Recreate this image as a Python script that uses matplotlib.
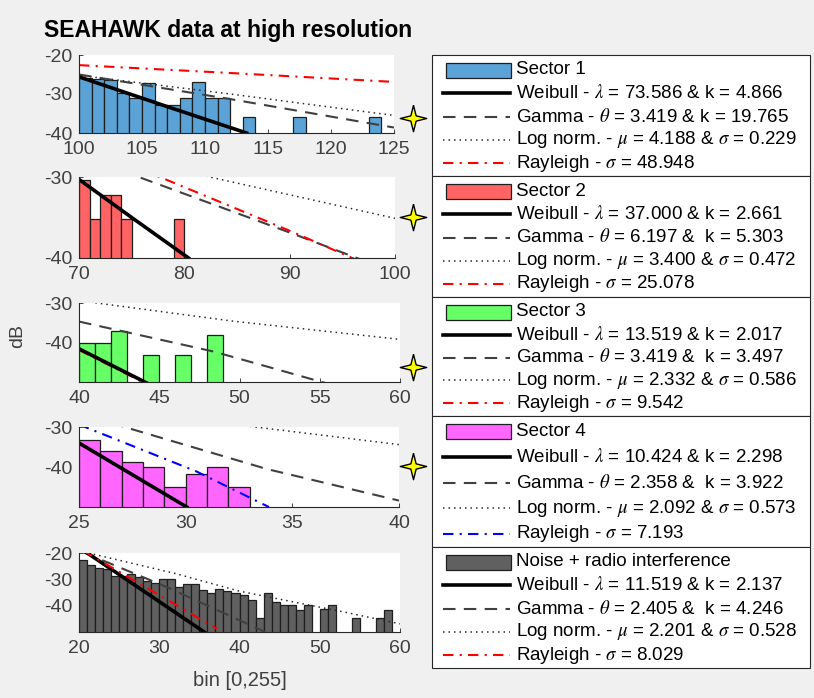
import matplotlib
matplotlib.use("Agg")
import matplotlib.pyplot as plt
from matplotlib.patches import Rectangle
from matplotlib.lines import Line2D

plt.rcParams['font.family'] = ['Liberation Sans', 'DejaVu Sans']
plt.rcParams['mathtext.fontset'] = 'stix'
plt.rcParams['axes.unicode_minus'] = False

W, H = 814, 698

# ---------------- data ----------------
TITLE = "SEAHAWK data at high resolution"
YLABEL = "dB"
XLABEL = "bin [0,255]"

# Sector 1
s1_bins = [100, 101, 102, 103, 104, 105, 106, 107, 108, 109, 110, 111, 113, 117, 123]
s1_db = [-26.0, -26.2, -26.4, -29.7, -30.9, -27.1, -32.9, -32.9, -30.9, -27.0, -30.9, -30.9, -35.8, -35.8, -35.8]
s1_wei = ([100, 106.6, 113.3], [-25.6, -32.8, -40.0])
s1_gam = ([100, 112, 125], [-25.0, -31.3, -38.6])
s1_logn = ([100, 112, 125], [-25.2, -30.0, -35.5])
s1_ray = ([100, 112.5, 125], [-22.6, -24.7, -26.9])
s1_labels = ["Sector 1",
             "Weibull - $\\lambda$ = 73.586 & k = 4.866",
             "Gamma - $\\theta$ = 3.419 & k = 19.765",
             "Log norm. - $\\mu$ = 4.188 & $\\sigma$ = 0.229",
             "Rayleigh - $\\sigma$ = 48.948"]

# Sector 2
s2_bins = [70, 71, 72, 73, 74, 79]
s2_db = [-30.4, -35.2, -32.2, -32.2, -35.2, -35.2]
s2_wei = ([70, 75, 80.4], [-30.3, -35.0, -40.0])
s2_gam = ([74.0, 90.3, 98.0], [-29.2, -37.0, -40.8])
s2_logn = ([80.0, 100.0], [-29.3, -35.1])
s2_ray = ([76.0, 90.3, 97.0], [-29.1, -36.8, -40.6])
s2_labels = ["Sector 2",
             "Weibull - $\\lambda$ = 37.000 & k = 2.661",
             "Gamma - $\\theta$ = 6.197 &  k = 5.303",
             "Log norm. - $\\mu$ = 3.400 & $\\sigma$ = 0.472",
             "Rayleigh - $\\sigma$ = 25.078"]

# Sector 3
s3_bins = [40, 41, 42, 44, 46, 48]
s3_db = [-40.0, -40.0, -37.0, -43.1, -43.1, -38.2]
s3_wei = ([40, 44.3], [-41.6, -50.4])
s3_gam = ([40, 48.4, 56.0], [-34.7, -42.3, -51.0])
s3_logn = ([40, 49.6, 60], [-29.4, -34.6, -39.2])
s3_ray = ([40, 44.2], [-41.9, -50.5])
s3_labels = ["Sector 3",
             "Weibull - $\\lambda$ = 13.519 & k = 2.017",
             "Gamma - $\\theta$ = 3.419 &  k = 3.497",
             "Log norm. - $\\mu$ = 2.332 & $\\sigma$ = 0.586",
             "Rayleigh - $\\sigma$ = 9.542"]

# Sector 4
s4_bins = [25, 26, 27, 28, 29, 30, 31, 32]
s4_db = [-33.2, -36.0, -38.7, -40.0, -45.0, -41.7, -40.0, -45.0]
s4_wei = ([25, 30.05], [-34.0, -50.0])
s4_gam = ([26.5, 33.8, 40], [-29.0, -40.5, -48.4])
s4_logn = ([32.5, 40], [-29.5, -34.4])
s4_ray = ([25.0, 30.5, 33.9], [-29.4, -41.1, -50.0])
s4_labels = ["Sector 4",
             "Weibull - $\\lambda$ = 10.424 & k = 2.298",
             "Gamma - $\\theta$ = 2.358 &  k = 3.922",
             "Log norm. - $\\mu$ = 2.092 & $\\sigma$ = 0.573",
             "Rayleigh - $\\sigma$ = 7.193"]

# Noise + radio interference
s5_bins = [20, 21, 22, 23, 24, 25, 26, 27, 28, 29, 30, 31, 32, 33, 34, 35, 36, 37, 38, 39,
           40, 41, 42, 43, 44, 45, 46, 47, 48, 50, 51, 54, 57, 58]
s5_db = [-22.5, -24.4, -25.6, -26.2, -28.7, -28.7, -28.0, -29.0, -30.6, -31.3, -30.0, -30.0,
         -33.0, -31.9, -31.9, -34.0, -35.2, -33.6, -34.4, -35.0,
         -36.0, -37.8, -44.6, -35.0, -38.5, -39.7, -39.7, -41.6, -39.7, -41.3, -39.7, -44.6, -44.6, -41.6]
s5_wei = ([20.5, 35.6], [-18.9, -50.0])
s5_gam = ([20.5, 31, 43.2], [-19.7, -33.0, -50.0])
s5_logn = ([20.5, 32, 40, 53, 60], [-19.5, -27.8, -34.5, -42.4, -46.9])
s5_ray = ([20.5, 37.2], [-19.1, -48.8])
s5_labels = ["Noise + radio interference",
             "Weibull - $\\lambda$ = 11.519 & k = 2.137",
             "Gamma - $\\theta$ = 2.405 &  k = 4.246",
             "Log norm. - $\\mu$ = 2.201 & $\\sigma$ = 0.528",
             "Rayleigh - $\\sigma$ = 8.029"]

# ---------------- styles / layout ----------------
bar_colors = ['#5ba3d6', '#ff6363', '#66ff66', '#ff66ff', '#606060']
ray_colors = ['#ff0000', '#ff0000', '#ff0000', '#0000ff', '#ff0000']
xlims = [(100, 125), (70, 100), (40, 60), (25, 40), (20, 60)]
ylims = [(-40, -20), (-40, -30), (-50, -30), (-50, -30), (-50, -20)]
xticks = [[100, 105, 110, 115, 120, 125], [70, 80, 90, 100], [40, 45, 50, 55, 60],
          [25, 30, 35, 40], [20, 30, 40, 50, 60]]
yticks = [[-40, -30, -20], [-40, -30], [-40, -30], [-40, -30], [-40, -30, -20]]
# axes rectangles in pixels (left, top, right, bottom)
rects = [(79, 55, 394, 133), (79, 177, 395, 258), (79, 303, 400, 382),
         (79, 427, 399, 507), (79, 553, 400, 632)]

sectors = [
    (s1_bins, s1_db, s1_wei, s1_gam, s1_logn, s1_ray, s1_labels),
    (s2_bins, s2_db, s2_wei, s2_gam, s2_logn, s2_ray, s2_labels),
    (s3_bins, s3_db, s3_wei, s3_gam, s3_logn, s3_ray, s3_labels),
    (s4_bins, s4_db, s4_wei, s4_gam, s4_logn, s4_ray, s4_labels),
    (s5_bins, s5_db, s5_wei, s5_gam, s5_logn, s5_ray, s5_labels),
]

AX_COLOR = '#262626'
TXT_COLOR = '#404040'
EDGE = '#1e1e1e'

def style_kw(kind, i):
    if kind == 'wei':
        return dict(color='black', lw=2.6, linestyle='-')
    if kind == 'gam':
        return dict(color='#404040', lw=1.5, linestyle=(0, (6, 4)))
    if kind == 'logn':
        return dict(color='#2a2a2a', lw=1.1, linestyle=(0, (1, 2.6)))
    return dict(color=ray_colors[i], lw=1.5, linestyle=(0, (5, 3, 1, 3)))

fig = plt.figure(figsize=(W / 100, H / 100), dpi=100, facecolor='#f0f0f0')

for i, (bins, db, wei, gam, logn, ray, labels) in enumerate(sectors):
    l, t, r, b = rects[i]
    ax = fig.add_axes([l / W, 1 - b / H, (r - l) / W, (b - t) / H])
    ax.set_facecolor('white')
    base = ylims[i][0] - 5
    ax.bar(bins, [d - base for d in db], bottom=base, width=1, align='edge',
           color=bar_colors[i], edgecolor=EDGE, linewidth=0.9, zorder=2)
    ax.plot(*logn, zorder=3, **style_kw('logn', i))
    ax.plot(*gam, zorder=3, **style_kw('gam', i))
    if i == 2:
        ax.plot(*ray, zorder=3, **style_kw('ray', i))
        ax.plot(*wei, zorder=4, **style_kw('wei', i))
    else:
        ax.plot(*wei, zorder=3, **style_kw('wei', i))
        ax.plot(*ray, zorder=4, **style_kw('ray', i))
    ax.set_xlim(*xlims[i])
    ax.set_ylim(*ylims[i])
    ax.set_xticks(xticks[i])
    ax.set_yticks(yticks[i])
    ax.set_xticklabels([str(v) for v in xticks[i]])
    ax.set_yticklabels([str(v) for v in yticks[i]])
    for s in ['top', 'right']:
        ax.spines[s].set_visible(False)
    for s in ['left', 'bottom']:
        ax.spines[s].set_color(AX_COLOR)
        ax.spines[s].set_linewidth(0.8)
        ax.spines[s].set_zorder(5)
    ax.tick_params(direction='in', length=3, width=0.6, colors=AX_COLOR,
                   labelcolor=TXT_COLOR, labelsize=14)
    ax.tick_params(axis='x', pad=6)
    ax.tick_params(axis='y', pad=5)

# overlay for title, labels, legends and stars
ov = fig.add_axes([0, 0, 1, 1], zorder=10)
ov.set_xlim(0, W)
ov.set_ylim(H, 0)
ov.axis('off')
ov.patch.set_alpha(0)

ov.text(228, 31, TITLE, ha='center', va='center', fontsize=16.5, fontweight='bold', color='black')
ov.text(18, 336, YLABEL, ha='center', va='center', rotation=90, fontsize=14, color=TXT_COLOR)
ov.text(240, 681, XLABEL, ha='center', va='center', fontsize=14.5, color=TXT_COLOR)

box_edges = [55, 176, 297, 416, 547, 668]
for i, sec in enumerate(sectors):
    labels = sec[6]
    top, bot = box_edges[i], box_edges[i + 1]
    ov.add_patch(Rectangle((432, top), 378, bot - top, facecolor='white',
                           edgecolor=AX_COLOR, linewidth=0.8))
    n = len(labels)
    step = (bot - top - 28) / (n - 1)
    for j, lab in enumerate(labels):
        y = top + 15 + j * step
        if j == 0:
            ov.add_patch(Rectangle((446, y - 7.5), 65, 15, facecolor=bar_colors[i],
                                   edgecolor=EDGE, linewidth=0.9))
        else:
            kind = ['wei', 'gam', 'logn', 'ray'][j - 1]
            ov.add_line(Line2D([443, 510], [y, y], **style_kw(kind, i)))
        ov.text(516, y, lab, ha='left', va='center', fontsize=13.5, color='black')

# yellow star markers
star = [(0, 1), (0.2, 0.2), (1, 0), (0.2, -0.2), (0, -1), (-0.2, -0.2), (-1, 0), (-0.2, 0.2), (0, 1)]
star_y = [118, 217, 367, 466]
ov.plot([413] * len(star_y), star_y, linestyle='none', marker=star, markersize=19,
        markerfacecolor='#ffff00', markeredgecolor='black', markeredgewidth=1.0)

fig.savefig('out.png', dpi=100, facecolor=fig.get_facecolor())
